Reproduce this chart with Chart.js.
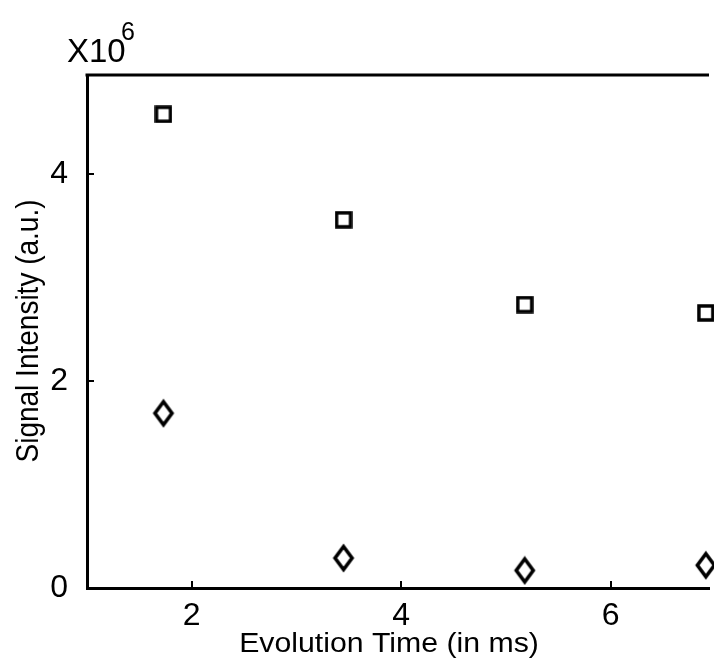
<!DOCTYPE html>
<html>
<head>
<meta charset="utf-8">
<script src="https://cdn.jsdelivr.net/npm/chart.js@4/dist/chart.umd.min.js"></script>
<style>
  html, body { margin: 0; padding: 0; background: #fff; }
  #plot { display: block; }
</style>
</head>
<body>
<canvas id="plot" width="714" height="659"></canvas>
<script>
const evolutionTimes = [1.73, 3.45, 5.18, 6.91];
const squareSignal = [4.58e6, 3.56e6, 2.74e6, 2.66e6];
const diamondSignal = [1.69e6, 0.29e6, 0.17e6, 0.22e6];
const xTicks = [2, 4, 6];
const yTicks = [0, 2e6, 4e6];

const FONT = "'Liberation Sans', Arial, sans-serif";

function squareMarker() {
  const c = document.createElement("canvas");
  c.width = 18; c.height = 18;
  const g = c.getContext("2d");
  g.strokeStyle = "#000";
  g.lineWidth = 3.5;
  g.strokeRect(2, 2, 14, 14);
  return c;
}

function diamondMarker() {
  const c = document.createElement("canvas");
  c.width = 24; c.height = 30;
  const g = c.getContext("2d");
  g.strokeStyle = "#000";
  g.lineWidth = 3.6;
  g.lineJoin = "miter";
  g.beginPath();
  g.moveTo(12, 3.5);
  g.lineTo(20.5, 15);
  g.lineTo(12, 26.5);
  g.lineTo(3.5, 15);
  g.closePath();
  g.stroke();
  return c;
}

const toPoints = ys => evolutionTimes.map((x, i) => ({ x: x, y: ys[i] }));

// inward tick marks, top frame line and the text around the axes
const decorations = {
  id: "decorations",
  afterDraw(chart) {
    const { ctx, chartArea, scales } = chart;
    ctx.save();
    ctx.strokeStyle = "#000";
    ctx.lineWidth = 2;
    ctx.beginPath();
    xTicks.forEach(v => {
      const px = Math.round(scales.x.getPixelForValue(v));
      ctx.moveTo(px, chartArea.bottom);
      ctx.lineTo(px, chartArea.bottom - 7);
    });
    yTicks.slice(1).forEach(v => {
      const py = Math.round(scales.y.getPixelForValue(v));
      ctx.moveTo(chartArea.left, py);
      ctx.lineTo(chartArea.left + 7, py);
    });
    ctx.stroke();

    ctx.lineWidth = 3;
    ctx.beginPath();
    ctx.moveTo(chartArea.left - 1.5, chartArea.top);
    ctx.lineTo(chartArea.right, chartArea.top);
    ctx.stroke();

    ctx.fillStyle = "#000";
    // x title
    ctx.save();
    ctx.translate(389, 652);
    ctx.scale(1.12, 1);
    ctx.font = "27px " + FONT;
    ctx.textAlign = "center";
    ctx.textBaseline = "alphabetic";
    ctx.fillText("Evolution Time (in ms)", 0, 0);
    ctx.restore();

    // y title
    ctx.save();
    ctx.translate(38, 331);
    ctx.rotate(-Math.PI / 2);
    ctx.scale(1, 1.1);
    ctx.font = "28px " + FONT;
    ctx.textAlign = "center";
    ctx.textBaseline = "alphabetic";
    ctx.fillText("Signal Intensity (a.u.)", 0, 0);
    ctx.restore();

    // exponent label
    ctx.font = "33px " + FONT;
    ctx.textAlign = "left";
    ctx.textBaseline = "alphabetic";
    ctx.fillText("X10", 67, 62);
    ctx.font = "25px " + FONT;
    ctx.fillText("6", 121, 40);
    ctx.restore();
  }
};

new Chart(document.getElementById("plot"), {
  type: "scatter",
  data: {
    datasets: [
      {
        label: "squares",
        data: toPoints(squareSignal),
        pointStyle: squareMarker(),
        clip: false,
      },
      {
        label: "diamonds",
        data: toPoints(diamondSignal),
        pointStyle: diamondMarker(),
        clip: false,
      },
    ],
  },
  options: {
    responsive: false,
    animation: false,
    devicePixelRatio: 1,
    layout: { padding: { top: 75, right: 0, left: 0, bottom: 0 } },
    plugins: { legend: { display: false }, tooltip: { enabled: false } },
    scales: {
      x: {
        type: "linear",
        min: 1,
        max: 6.94,
        afterFit: s => { s.height = 71; },
        afterBuildTicks: s => { s.ticks = xTicks.map(v => ({ value: v })); },
        grid: { display: false, drawTicks: false },
        border: { display: true, color: "#000", width: 3 },
        ticks: {
          color: "#000",
          font: { family: FONT, size: 32 },
          padding: 9,
          maxRotation: 0,
          callback: v => String(v),
        },
      },
      y: {
        type: "linear",
        min: 0,
        max: 4.96e6,
        afterFit: s => { s.width = 87; },
        afterBuildTicks: s => { s.ticks = yTicks.map(v => ({ value: v })); },
        grid: { display: false, drawTicks: false },
        border: { display: true, color: "#000", width: 3 },
        ticks: {
          color: "#000",
          font: { family: FONT, size: 32 },
          padding: 19,
          callback: v => String(v / 1e6),
        },
      },
    },
  },
  plugins: [decorations],
});
</script>
</body>
</html>
